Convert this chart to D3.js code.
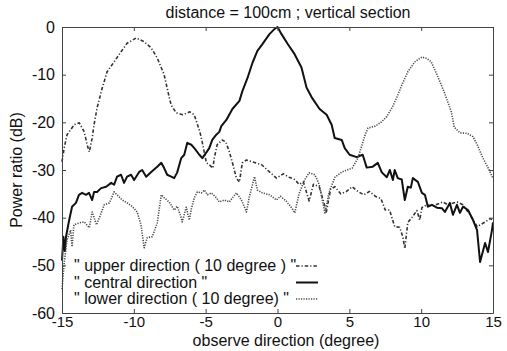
<!DOCTYPE html>
<html>
<head>
<meta charset="utf-8">
<script src="https://cdn.jsdelivr.net/npm/d3@7"></script>
<style>
  body { margin: 0; background: #fff; }
  text { font-family: "Liberation Sans", Arial, sans-serif; fill: #111; }
</style>
</head>
<body>
<svg id="chart" width="507" height="351"></svg>
<script>
// angle (degree) / power ratio (dB)
var upperX = [-15, -14.85, -14.65, -14.15, -13.8, -13.45, -13.25, -13.1, -12.9, -12.77, -12.56, -12.2, -11.86, -11.37, -10.89, -10.47, -9.84, -9.28, -8.79, -8.37, -7.89, -7.54, -7.4, -7.05, -6.6, -6.1, -5.8, -5.4, -5.2, -4.95, -4.75, -4.5, -4.4, -4.2, -3.85, -3.6, -3.35, -3.1, -2.86, -2.65, -2.45, -2.16, -1.74, -1.1, -0.56, -0.07, 0.4, 0.8, 1.2, 1.5, 1.8, 2.2, 2.5, 2.9, 3.2, 3.4, 3.7, 4.0, 4.4, 4.8, 5.2, 5.6, 6.0, 6.4, 6.8, 7.2, 7.5, 7.8, 8.16, 8.5, 8.72, 8.86, 9.07, 9.35, 9.7, 9.9, 10.05, 10.4, 10.8, 11.5, 11.86, 12.5, 12.9, 13.4, 13.9, 14.45, 14.8, 15];
var upperY = [-28.3, -25.4, -22.6, -20.5, -20.1, -22, -24.7, -26.2, -23.3, -20.5, -17, -12.8, -9.4, -7.3, -5.2, -3.4, -2.3, -3.1, -4.4, -6.5, -10, -14.7, -16.4, -18, -18.4, -17.8, -18.4, -22, -24.7, -28.5, -28.9, -29.6, -27.5, -24.7, -23.7, -24.1, -26.2, -28.9, -31.7, -32.5, -28.5, -27.9, -28.3, -28.9, -30.4, -31.7, -30.8, -31.5, -32, -33, -32.5, -36.5, -33, -33.5, -36.5, -38.8, -34, -33.5, -35, -34.5, -33.5, -34.5, -35.2, -34.5, -35.5, -36, -38.4, -38.4, -41.9, -42, -44, -46.5, -41, -40, -38.5, -40.5, -37.9, -37.3, -37.6, -36.7, -37.3, -36.7, -37.3, -39.4, -41.9, -40.9, -40.2, -40.5];

var centralX = [-15, -14.9, -14.8, -14.72, -14.5, -14.3, -14.03, -13.82, -13.6, -13.33, -13.12, -12.9, -12.77, -12.56, -12.28, -11.93, -11.58, -11.37, -11.17, -10.89, -10.68, -10.47, -10.19, -9.98, -9.63, -9.42, -9.14, -8.79, -8.37, -8.09, -7.89, -7.68, -7.4, -7.19, -6.98, -6.7, -6.49, -6.28, -6.0, -5.79, -5.44, -5.23, -4.95, -4.75, -4.54, -4.26, -4.05, -3.91, -3.56, -3.14, -2.65, -2.45, -2.1, -1.74, -1.4, -1.05, -0.56, -0.2, 0, 0.28, 0.7, 1.19, 1.67, 2.02, 2.37, 2.93, 3.42, 3.77, 3.98, 4.47, 4.68, 5.02, 5.51, 5.93, 6.21, 6.63, 6.98, 7.26, 7.61, 7.82, 8.03, 8.16, 8.37, 8.65, 8.86, 9.07, 9.28, 9.42, 9.77, 10.05, 10.26, 10.47, 10.75, 11.1, 11.44, 11.65, 12.0, 12.21, 12.49, 12.7, 12.91, 13.26, 13.61, 13.89, 14.1, 14.45, 14.65, 14.93, 15];
var centralY = [-49, -44, -47, -44, -40.5, -37.7, -36.9, -35.2, -34.8, -35.2, -34.8, -36.3, -34.6, -34.6, -33.8, -33.5, -32.7, -33.1, -31.4, -31, -32.7, -31.4, -31, -32.1, -30.4, -30, -31.4, -30.4, -29.3, -28.5, -29.6, -31, -31.4, -31.7, -30.5, -27.5, -26.8, -24.3, -24.7, -25.4, -26.8, -27.5, -26.3, -25.4, -23.7, -22.6, -22, -20.8, -19.5, -17.2, -15.5, -13.5, -10.8, -7.5, -5, -3.6, -1.5, -0.4, 0, -1.5, -3.5, -5.7, -8.5, -12.7, -14.7, -17.2, -18.4, -20.5, -23.3, -23.7, -25.4, -26.8, -27.3, -26.8, -29.5, -29.3, -28.5, -30.5, -31.5, -30, -32.1, -30, -31.7, -32, -36.3, -33.5, -33.7, -31.7, -32.5, -34.8, -35.2, -37.7, -37.3, -37.9, -38, -38.8, -36.9, -39.4, -37.3, -39, -37.7, -38.4, -40.5, -42.6, -49.3, -45.3, -47.2, -42.6, -41];

var lowerX = [-15, -14.85, -14.65, -14.4, -14.3, -14.17, -13.8, -13.45, -13.1, -12.9, -12.6, -12.4, -12.06, -11.7, -11.37, -11.17, -10.8, -10.47, -10.1, -9.77, -9.5, -9.28, -9.07, -8.72, -8.37, -8.09, -7.89, -7.54, -7.19, -6.98, -6.7, -6.63, -6.35, -6.14, -6.0, -5.79, -5.58, -5.3, -5.09, -4.88, -4.6, -4.26, -4.05, -3.7, -3.35, -2.86, -2.51, -2.16, -1.95, -1.6, -1.4, -1.05, -0.56, -0.07, 0.2, 0.6, 1.0, 1.2, 1.5, 1.9, 2.2, 2.6, 2.9, 3.1, 3.3, 3.6, 4.0, 4.5, 5.2, 5.6, 6.1, 6.3, 6.8, 7.2, 7.6, 8.0, 8.3, 8.65, 9.07, 9.56, 10.05, 10.4, 10.7, 11.1, 11.6, 12.1, 12.3, 12.7, 13.2, 13.6, 13.9, 14.3, 14.65, 15];
var lowerY = [-55, -49.5, -44.7, -42.6, -46.1, -41.5, -41.1, -40.9, -42.1, -38.8, -41.5, -40, -37.3, -36.9, -34.6, -35.2, -36.3, -36.9, -37.7, -38.8, -41.5, -46.3, -44.2, -44, -41.1, -35.2, -35.8, -36.7, -38.4, -37.6, -40, -40.9, -37.8, -40.5, -38.2, -35.8, -34.6, -34.8, -34.2, -35.2, -34.8, -35.8, -36.7, -36.3, -36.7, -34.8, -36.3, -38.8, -35.5, -31.4, -34.2, -34.8, -35.2, -36.3, -35.5, -36.5, -38, -39, -35, -32, -30.6, -31, -33, -36, -39, -34.6, -31.5, -30.4, -29.6, -27.5, -22.6, -21.2, -20.8, -20, -18.8, -16.8, -14.8, -12.2, -9.4, -7.3, -6.3, -6.6, -7.3, -10, -13.6, -17.8, -21, -22.2, -22.3, -23, -24.7, -27.5, -29.5, -31.7];

var xTicks = [-15, -10, -5, 0, 5, 10, 15];
var yTicks = [0, -10, -20, -30, -40, -50, -60];
var legendLabels = ['" upper direction ( 10 degree ) "', '" central direction "', '" lower direction ( 10 degree) "'];

var svg = d3.select("#chart");
var plotLeft = 62, plotRight = 493, plotTop = 27, plotBottom = 313;

var x = d3.scaleLinear().domain([-15, 15]).range([plotLeft, plotRight]);
var y = d3.scaleLinear().domain([-60, 0]).range([plotBottom, plotTop]);

var series = [
    {xs: upperX, ys: upperY, dash: "3.5,2,1.2,2", width: 1.6, color: "#333"},
    {xs: centralX, ys: centralY, dash: null, width: 2, color: "#111"},
    {xs: lowerX, ys: lowerY, dash: "1.2,1.3", width: 1.6, color: "#4a4a4a"}
];

var line = d3.line()
    .x(function (d) { return x(d[0]); })
    .y(function (d) { return y(d[1]); });

svg.append("g").selectAll("path")
    .data(series)
    .enter().append("path")
    .attr("d", function (s) { return line(d3.zip(s.xs, s.ys)); })
    .attr("fill", "none")
    .attr("stroke", function (s) { return s.color; })
    .attr("stroke-width", function (s) { return s.width; })
    .attr("stroke-dasharray", function (s) { return s.dash; })
    .attr("stroke-linejoin", "round");

var plain = function (d) { return String(d); };

// frame with inward ticks, like the original
svg.append("g")
    .attr("transform", "translate(0," + plotBottom + ")")
    .call(d3.axisBottom(x).tickValues(xTicks).tickFormat(plain).tickSizeInner(-4).tickSizeOuter(0).tickPadding(3))
    .call(function (g) { g.selectAll("text").style("font-size", "15px"); });
svg.append("g")
    .attr("transform", "translate(0," + plotTop + ")")
    .call(d3.axisTop(x).tickValues(xTicks).tickSizeInner(-4).tickSizeOuter(0).tickFormat(""));
svg.append("g")
    .attr("transform", "translate(" + plotLeft + ",0)")
    .call(d3.axisLeft(y).tickValues(yTicks).tickFormat(plain).tickSizeInner(-4).tickSizeOuter(0).tickPadding(7))
    .call(function (g) { g.selectAll("text").style("font-size", "16px"); });
svg.append("g")
    .attr("transform", "translate(" + plotRight + ",0)")
    .call(d3.axisRight(y).tickValues(yTicks).tickSizeInner(-4).tickSizeOuter(0).tickFormat(""));
svg.selectAll(".domain").attr("stroke", "#444");
svg.selectAll(".tick line").attr("stroke", "#444");
svg.selectAll(".tick text").attr("fill", "#111").style("font-family", "Liberation Sans, Arial, sans-serif");

// legend
var leg = svg.append("g");
legendLabels.forEach(function (t, i) {
    var ly = 271 + i * 16.5;
    leg.append("text").attr("x", 74).attr("y", ly).style("font-size", "16px").text(t);
    leg.append("line")
        .attr("x1", 296).attr("x2", 318).attr("y1", ly - 5).attr("y2", ly - 5)
        .attr("stroke", series[i].color)
        .attr("stroke-width", series[i].width)
        .attr("stroke-dasharray", series[i].dash);
});

svg.append("text").attr("x", 288).attr("y", 18).attr("text-anchor", "middle")
    .style("font-size", "16px").text("distance = 100cm ; vertical section");
svg.append("text").attr("x", 286).attr("y", 346).attr("text-anchor", "middle")
    .style("font-size", "16px").text("observe direction (degree)");
svg.append("text").attr("transform", "translate(22,170) rotate(-90)").attr("text-anchor", "middle")
    .style("font-size", "16px").text("Power ratio (dB)");
</script>
</body>
</html>
